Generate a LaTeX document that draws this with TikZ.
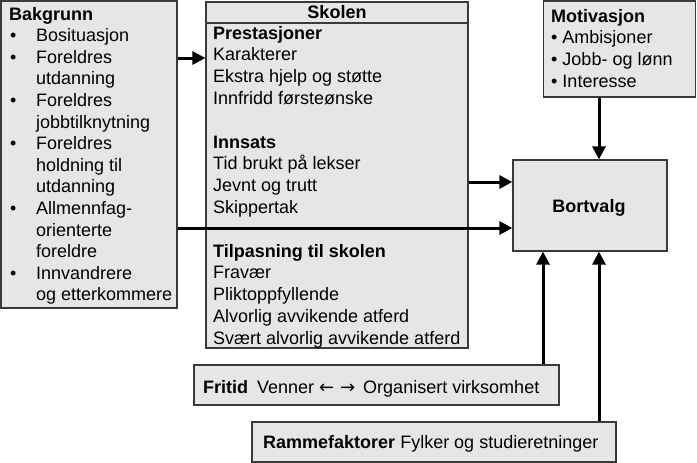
\documentclass[tikz,border=0pt]{standalone}
\usepackage{fontspec}
\setmainfont{Liberation Sans}
\newfontfamily\arrowfont{DejaVu Sans}
\usetikzlibrary{arrows.meta}
\definecolor{boxfill}{HTML}{E6E6E6}
\definecolor{boxline}{HTML}{3A3A3A}
\newcommand\arrowglyph[1]{\makebox[15pt]{\arrowfont\fontsize{18}{22}\selectfont #1}}
\begin{document}
\begin{tikzpicture}[x=1pt,y=-1pt,
 box/.style={draw=boxline, fill=boxfill, line width=1.2pt, inner sep=0pt, rectangle},
 txt/.style={anchor=base west, inner sep=0pt, font=\fontsize{18}{22}\selectfont},
 btxt/.style={txt, font=\fontsize{18}{22}\selectfont\bfseries},
 conn/.style={line width=3pt, black},
 arr/.style={conn, -{Triangle[length=13pt,width=13pt]}}]
\useasboundingbox (0,0) rectangle (697,463);

% boxes
\node[box, minimum width=176pt, minimum height=307pt] (bak) at (89,154.5) {};
\node[box, minimum width=262pt, minimum height=346pt] (sko) at (337,175) {};
\node[box, minimum width=152pt, minimum height=96pt] (mot) at (619.5,49) {};
\node[box, minimum width=154pt, minimum height=91pt] (bort) at (590,205.5) {};
\node[box, minimum width=365pt, minimum height=40pt] (fri) at (376.5,385) {};
\node[box, minimum width=364pt, minimum height=40pt] (ram) at (434,442) {};

% Skolen header band
\coordinate (h23) at (0,23);
\draw[boxline, line width=1.2pt] (sko.west |- h23) -- (sko.east |- h23);

% Bakgrunn text
\node[btxt] (bakt) at (9,20) {Bakgrunn};
\foreach \t/\b [count=\i] in {Bosituasjon/1, Foreldres/1, utdanning/0, Foreldres/1,
  jobbtilknytning/0, Foreldres/1, holdning til/0, utdanning/0, Allmennfag-/1,
  orienterte/0, foreldre/0, Innvandrere/1, og etterkommere/0}{
  \node[txt] (bak\i) at (36,{20+21.6*\i}) {\t};
  \ifnum\b=1 \node[txt] (bakb\i) at (10,{20+21.6*\i}) {•};\fi
}

% Skolen text
\node[btxt, anchor=base] (skot) at (337,18) {Skolen};
\foreach \k/\t in {0/\textbf{Prestasjoner}, 1/Karakterer, 2/Ekstra hjelp og støtte,
  3/Innfridd førsteønske, 5/\textbf{Innsats}, 6/Tid brukt på lekser, 7/Jevnt og trutt,
  8/Skippertak, 10/\textbf{Tilpasning til skolen}, 11/Fravær, 12/Pliktoppfyllende,
  13/Alvorlig avvikende atferd, 14/Svært alvorlig avvikende atferd}{
  \node[txt] (sko\k) at (213,{39+21.8*\k}) {\t};
}

% Motivasjon text
\node[btxt] (mott) at (551,22) {Motivasjon};
\node[txt] (mot1) at (551,43.7) {• Ambisjoner};
\node[txt] (mot2) at (551,65.4) {• Jobb- og lønn};
\node[txt] (mot3) at (551,87) {• Interesse};

% Bortvalg
\node[btxt, anchor=base] (bortt) at (589,212) {Bortvalg};

% Fritid, Rammefaktorer
\node[txt] (frit) at (203,393) {\textbf{Fritid}\hspace{9pt}Venner\hspace{5pt}\arrowglyph{←}\hspace{6pt}\arrowglyph{→}\hspace{8pt}Organisert virksomhet};
\node[txt] (ramt) at (263,448) {\textbf{Rammefaktorer} Fylker og studieretninger};

% connectors
\coordinate (h58) at (0,58);
\coordinate (h182) at (0,182);
\coordinate (h228) at (0,228);
\coordinate (v599) at (599,0);
\coordinate (v543) at (543,0);
\draw[arr] (bak.east |- h58) -- (sko.west |- h58);
\draw[arr] (sko.east |- h182) -- (bort.west |- h182);
\draw[arr] (bak.east |- h228) -- (bort.west |- h228);
\draw[arr] (mot.south -| v599) -- (bort.north -| v599);
\draw[arr] (fri.north -| v543) -- (bort.south -| v543);
\draw[arr] (ram.north -| v599) -- (bort.south -| v599);
\end{tikzpicture}
\end{document}
